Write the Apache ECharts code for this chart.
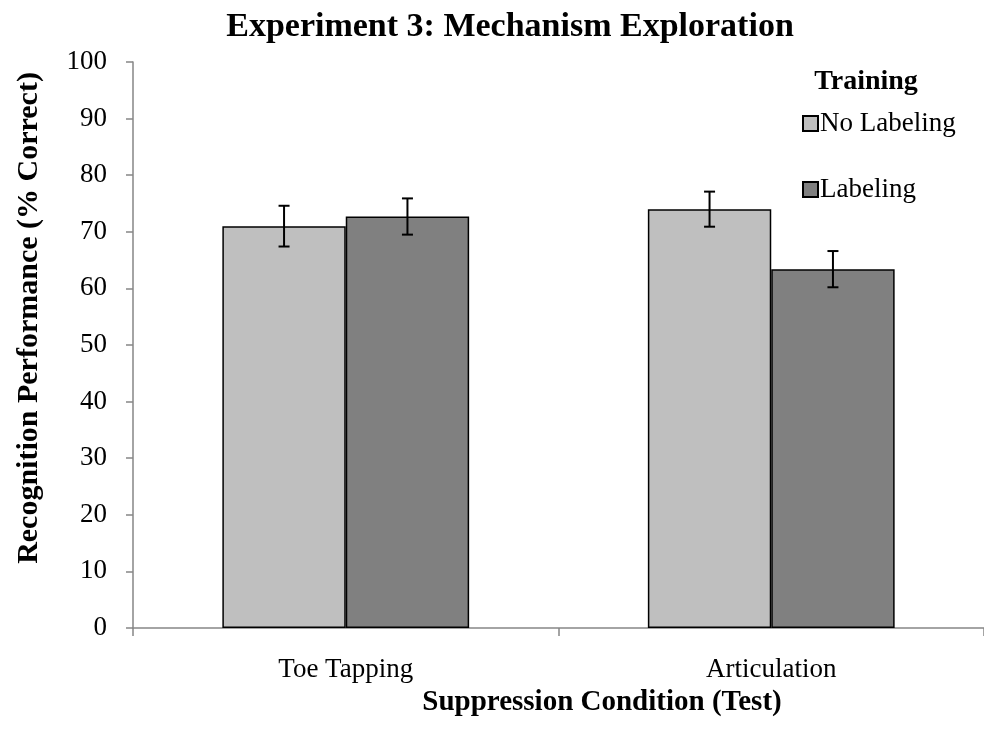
<!DOCTYPE html>
<html><head><meta charset="utf-8">
<script src="https://cdn.jsdelivr.net/npm/echarts@6/dist/echarts.min.js"></script>
<style>html,body{margin:0;padding:0;background:#fff}#c{width:984px;height:731px}</style>
</head><body><div id="c"></div>
<script>
const categories = ['Toe Tapping', 'Articulation'];
const seriesNames = ['No Labeling', 'Labeling'];
const noLabeling = [71.0, 74.0];
const labeling = [72.7, 63.4];
const noLabelingErr = [3.6, 3.1];
const labelingErr = [3.2, 3.2];
const yTicks = [0, 10, 20, 30, 40, 50, 60, 70, 80, 90, 100];

const FONT = '"Liberation Serif","Times New Roman",serif';
const chart = echarts.init(document.getElementById('c'));

function errSeries(vals, errs, side) {
  return {
    type: 'custom',
    z: 10,
    silent: true,
    data: vals.map((v, i) => [i, v, errs[i]]),
    renderItem: function (params, api) {
      const idx = api.value(0), v = api.value(1), e = api.value(2);
      const band = api.size([1, 0])[0];
      const off = side * band * 0.145;
      const top = api.coord([idx, v + e]);
      const bot = api.coord([idx, v - e]);
      const x = top[0] + off;
      const cw = 5.5;
      const st = { stroke: '#000', lineWidth: 2 };
      return {
        type: 'group',
        children: [
          { type: 'line', shape: { x1: x, y1: top[1], x2: x, y2: bot[1] }, style: st },
          { type: 'line', shape: { x1: x - cw, y1: top[1], x2: x + cw, y2: top[1] }, style: st },
          { type: 'line', shape: { x1: x - cw, y1: bot[1], x2: x + cw, y2: bot[1] }, style: st }
        ]
      };
    }
  };
}

chart.setOption({
  animation: false,
  textStyle: { fontFamily: FONT },
  grid: { left: 133, top: 62, width: 854, height: 566, containLabel: false },
  graphic: [
    { type: 'text', x: 510, y: 27,
      style: { text: 'Experiment 3: Mechanism Exploration', font: 'bold 34px ' + FONT, fill: '#000', align: 'center', verticalAlign: 'middle' } },
    { type: 'text', x: 866, y: 82,
      style: { text: 'Training', font: 'bold 28px ' + FONT, fill: '#000', align: 'center', verticalAlign: 'middle' } },
    { type: 'text', x: 602, y: 703,
      style: { text: 'Suppression Condition (Test)', font: 'bold 29px ' + FONT, fill: '#000', align: 'center', verticalAlign: 'middle' } },
    { type: 'text', x: 29, y: 318, rotation: Math.PI / 2,
      style: { text: 'Recognition Performance (% Correct)', font: 'bold 30px ' + FONT, fill: '#000', align: 'center', verticalAlign: 'middle' } }
  ],
  legend: {
    orient: 'vertical',
    left: 797,
    top: 105,
    itemWidth: 15,
    itemHeight: 15,
    itemGap: 39,
    icon: 'rect',
    data: seriesNames,
    textStyle: { fontFamily: FONT, fontSize: 27, color: '#000', padding: [0, 0, 0, -3] },
    selectedMode: false
  },
  xAxis: {
    type: 'category',
    data: categories,
    axisLine: { lineStyle: { color: '#868686', width: 1.5 } },
    axisTick: { show: true, length: 8, lineStyle: { color: '#868686', width: 1.5 } },
    axisLabel: { fontFamily: FONT, fontSize: 27, color: '#000', margin: 28 },
    splitLine: { show: false }
  },
  yAxis: {
    type: 'value',
    min: yTicks[0],
    max: yTicks[yTicks.length - 1],
    interval: 10,
    axisLine: { show: true, lineStyle: { color: '#868686', width: 1.5 } },
    axisTick: { show: true, length: 7, lineStyle: { color: '#868686', width: 1.5 } },
    axisLabel: { fontFamily: FONT, fontSize: 27, color: '#000', margin: 26 },
    splitLine: { show: false }
  },
  series: [
    { name: seriesNames[0], type: 'bar', data: noLabeling, barWidth: '29%', barGap: '0%',
      itemStyle: { color: '#BFBFBF', borderColor: '#000', borderWidth: 1.5 } },
    { name: seriesNames[1], type: 'bar', data: labeling, barWidth: '29%', barGap: '0%',
      itemStyle: { color: '#808080', borderColor: '#000', borderWidth: 1.5 } },
    errSeries(noLabeling, noLabelingErr, -1),
    errSeries(labeling, labelingErr, 1)
  ]
});
</script></body></html>
